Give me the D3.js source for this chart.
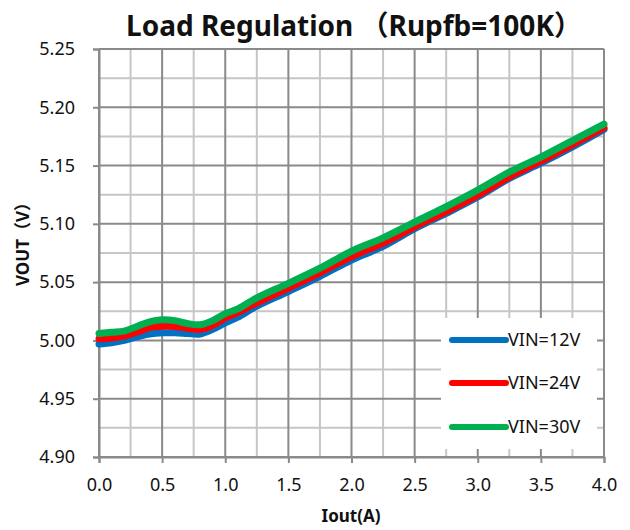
<!DOCTYPE html>
<html>
<head>
<meta charset="utf-8">
<script src="https://cdn.jsdelivr.net/npm/d3@7"></script>
<style>
  body { margin: 0; background: #fff; }
  text { font-family: "Noto Sans", "Noto Sans CJK SC", sans-serif; }
</style>
</head>
<body>
<script>
// Iout (A)
const iout = [0, 0.1, 0.2, 0.3, 0.4, 0.5, 0.6, 0.7, 0.8, 0.9, 1.0, 1.1, 1.25, 1.5, 1.75, 2.0, 2.25, 2.5, 2.75, 3.0, 3.25, 3.5, 3.75, 4.0]
// VOUT for each VIN
const vin12 = [4.997, 4.998, 5.000, 5.003, 5.0055, 5.0066, 5.0065, 5.006, 5.0055, 5.0095, 5.015, 5.020, 5.0294, 5.042, 5.055, 5.069, 5.0806, 5.0958, 5.109, 5.123, 5.139, 5.152, 5.166, 5.181]
const vin24 = [5.0015, 5.002, 5.004, 5.007, 5.011, 5.0122, 5.012, 5.0105, 5.0095, 5.013, 5.0194, 5.024, 5.0323, 5.045, 5.058, 5.072, 5.0835, 5.0975, 5.1105, 5.1245, 5.1403, 5.1537, 5.168, 5.1825]
const vin30 = [5.006, 5.007, 5.008, 5.012, 5.016, 5.0177, 5.017, 5.0145, 5.0135, 5.017, 5.023, 5.027, 5.0365, 5.049, 5.062, 5.0765, 5.088, 5.1015, 5.1148, 5.129, 5.1445, 5.1573, 5.1714, 5.1855]
const seriesNames = ["VIN=12V", "VIN=24V", "VIN=30V"]
const seriesColors = ["#0070C0", "#FF0000", "#00B050"]
const xTicks = [0, 0.5, 1.0, 1.5, 2.0, 2.5, 3.0, 3.5, 4.0]
const yTicks = [4.90, 4.95, 5.00, 5.05, 5.10, 5.15, 5.20, 5.25]
const xMinor = d3.range(0.25, 4, 0.5)
const yMinor = d3.range(4.925, 5.25, 0.05)

const width = 630, height = 530
const margin = {top: 49, right: 26, bottom: 73, left: 99}

const svg = d3.select("body").append("svg")
  .attr("width", width).attr("height", height)

const x = d3.scaleLinear().domain([0, 4]).range([margin.left, width - margin.right])
const y = d3.scaleLinear().domain([4.9, 5.25]).range([height - margin.bottom, margin.top])

// minor grid
const grid = svg.append("g")
grid.selectAll(".vminor").data(xMinor).enter().append("line")
  .attr("x1", d => x(d)).attr("x2", d => x(d))
  .attr("y1", y(4.9)).attr("y2", y(5.25))
  .attr("stroke", "#c6c6c6").attr("stroke-width", 2)
grid.selectAll(".hminor").data(yMinor).enter().append("line")
  .attr("y1", d => y(d)).attr("y2", d => y(d))
  .attr("x1", x(0)).attr("x2", x(4))
  .attr("stroke", "#c6c6c6").attr("stroke-width", 2)
// major grid
grid.selectAll(".vmajor").data(xTicks).enter().append("line")
  .attr("x1", d => x(d)).attr("x2", d => x(d))
  .attr("y1", y(4.9)).attr("y2", y(5.25))
  .attr("stroke", "#8a8a8a").attr("stroke-width", 2)
grid.selectAll(".hmajor").data(yTicks).enter().append("line")
  .attr("y1", d => y(d)).attr("y2", d => y(d))
  .attr("x1", x(0)).attr("x2", x(4))
  .attr("stroke", "#8a8a8a").attr("stroke-width", 2)

// axes
const yAxis = svg.append("g")
  .attr("transform", `translate(${margin.left},0)`)
  .call(d3.axisLeft(y).tickValues(yTicks).tickSize(6).tickPadding(18).tickFormat(d3.format(".2f")))
const xAxis = svg.append("g")
  .attr("transform", `translate(0,${height - margin.bottom})`)
  .call(d3.axisBottom(x).tickValues(xTicks).tickSize(6).tickPadding(15).tickFormat(d3.format(".1f")))
for (const ax of [xAxis, yAxis]) {
  ax.select(".domain").attr("stroke", "#8a8a8a").attr("stroke-width", 2)
  ax.selectAll(".tick line").attr("stroke", "#8a8a8a").attr("stroke-width", 2)
  ax.selectAll(".tick text").attr("fill", "#111").style("font-size", "18px")
}

// lines
const allSeries = [vin12, vin24, vin30]
const line = d3.line().x((d, i) => x(iout[i])).y(d => y(d)).curve(d3.curveCatmullRom)
svg.append("g").selectAll("path").data(allSeries).enter().append("path")
  .attr("d", d => line(d))
  .attr("fill", "none")
  .attr("stroke", (d, i) => seriesColors[i])
  .attr("stroke-width", 7)
  .attr("stroke-linejoin", "round")
  .attr("stroke-linecap", "round")

// legend
const lg = svg.append("g")
lg.append("rect").attr("x", 441).attr("y", 318).attr("width", 156).attr("height", 131).attr("fill", "#fff")
const legendY = [340, 383, 427]
seriesNames.forEach((name, i) => {
  lg.append("line").attr("x1", 452).attr("x2", 506).attr("y1", legendY[i]).attr("y2", legendY[i])
    .attr("stroke", seriesColors[i]).attr("stroke-width", 6).attr("stroke-linecap", "round")
  lg.append("text").attr("x", 508).attr("y", legendY[i]).attr("dy", "0.36em")
    .style("font-size", "18px").attr("fill", "#111").text(name)
})

// titles
svg.append("text").attr("x", 354).attr("y", 36).attr("text-anchor", "middle")
  .style("font-size", "28px").style("font-weight", "bold").attr("fill", "#111")
  .text("Load Regulation （Rupfb=100K）")
svg.append("text").attr("x", 351).attr("y", 522).attr("text-anchor", "middle")
  .style("font-size", "17px").style("font-weight", "bold").attr("fill", "#111")
  .text("Iout(A)")
svg.append("text").attr("transform", "translate(29,240) rotate(-90)").attr("text-anchor", "middle")
  .style("font-size", "17px").style("font-weight", "bold").attr("fill", "#111")
  .text("VOUT（V）")
</script>
</body>
</html>
